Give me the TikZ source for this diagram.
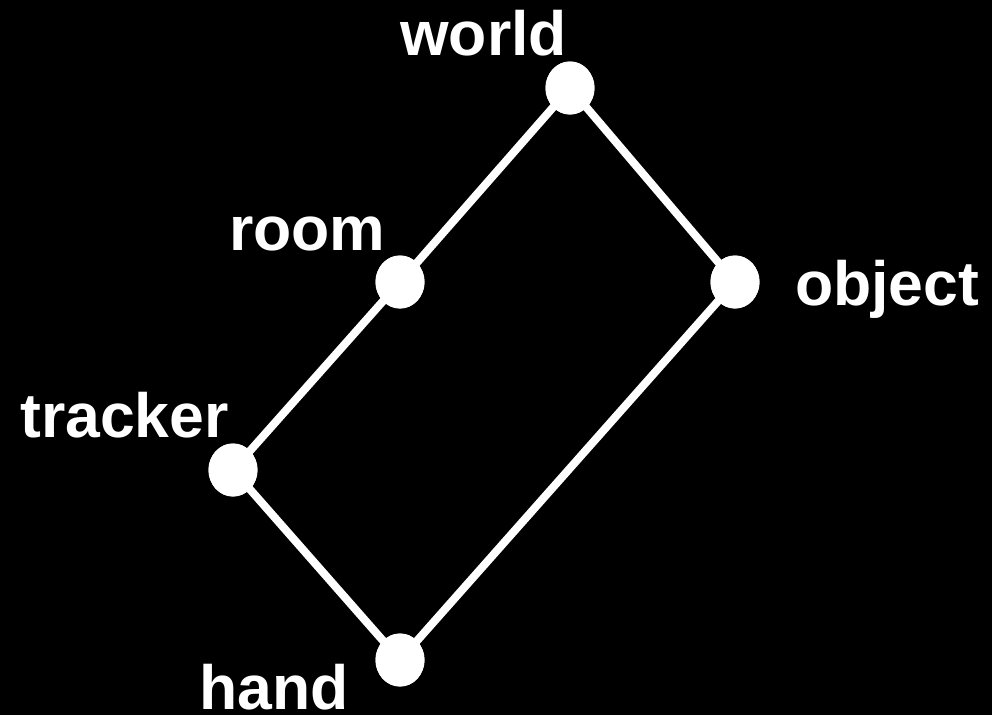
\documentclass[tikz,border=0pt]{standalone}
\usepackage{fontspec}
\setmainfont{Liberation Sans}
\usepackage{tikz}
\usetikzlibrary{shapes.geometric}

\begin{document}
\begin{tikzpicture}[x=1pt, y=-1pt,
  dot/.style={ellipse,fill=white,inner sep=0pt,minimum width=49pt,minimum height=53pt},
  lbl/.style={anchor=base west,inner sep=0pt,text=white,font=\fontsize{62.5}{70}\selectfont\bfseries},
  edge/.style={draw=white,line width=8pt}]
  % background
  \fill[black] (0,0) rectangle (992,715);
  \useasboundingbox (0,0) rectangle (992,715);
  % frames
  \node[dot] (world) at (570,88) {};
  \node[dot] (room) at (400,282) {};
  \node[dot] (object) at (735,282) {};
  \node[dot] (tracker) at (233,470) {};
  \node[dot] (hand) at (400,660) {};
  % links
  \draw[edge] (world.center) -- (room.center) -- (tracker.center) -- (hand.center) -- (object.center) -- (world.center);
  \foreach \n in {world,room,object,tracker,hand} \node[dot] at (\n) {};
  % names
  \node[lbl] (lworld) at (400,55) {world};
  \node[lbl] (lroom) at (229,250) {room};
  \node[lbl] (lobject) at (795,305) {object};
  \node[lbl] (ltracker) at (20,437) {tracker};
  \node[lbl] (lhand) at (199,709) {hand};
\end{tikzpicture}
\end{document}
